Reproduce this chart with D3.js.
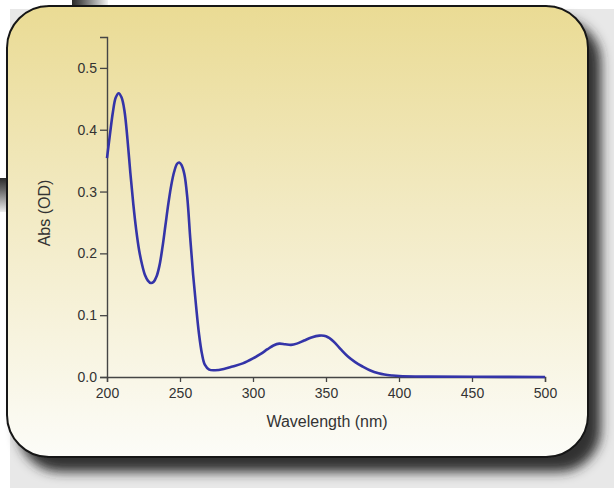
<!DOCTYPE html>
<html>
<head>
<meta charset="utf-8">
<style>
  body { margin: 0; background: #fff; }
  svg { display: block; }
</style>
</head>
<body>
<svg width="614" height="488"></svg>
<script src="https://cdnjs.cloudflare.com/ajax/libs/d3/7.8.5/d3.min.js"></script>
<script>
    // spectrum
    const wavelength = [200, 202, 204, 206, 208, 210, 212, 214, 216, 218, 220, 222, 224, 226, 228, 230,
        232, 234, 236, 238, 240, 242, 244, 246, 248, 249.5, 251, 253, 255, 257, 259, 261, 263, 265,
        267, 270, 274, 280, 286, 293, 300, 305, 310, 314, 318, 322, 326, 330, 335, 340, 345.5, 350,
        355, 360, 365, 370, 375, 380, 386, 390, 395, 400, 420, 450, 500];
    const absorbance = [0.354, 0.392, 0.428, 0.452, 0.459, 0.452, 0.430, 0.385, 0.330, 0.280, 0.238,
        0.205, 0.182, 0.165, 0.156, 0.152, 0.154, 0.163, 0.181, 0.210, 0.245, 0.280, 0.310, 0.332,
        0.345, 0.347, 0.343, 0.328, 0.290, 0.225, 0.165, 0.115, 0.070, 0.038, 0.020, 0.012, 0.011,
        0.013, 0.017, 0.022, 0.030, 0.037, 0.045, 0.051, 0.054, 0.053, 0.052, 0.054, 0.059, 0.064,
        0.067, 0.066, 0.058, 0.045, 0.033, 0.024, 0.017, 0.011, 0.006, 0.004, 0.0025, 0.0015, 0.0006,
        0.0003, 0.0];

    const xTicks = [200, 250, 300, 350, 400, 450, 500];
    const xMinor = [225, 275, 325, 375, 425, 475];
    const yTicks = [0.0, 0.1, 0.2, 0.3, 0.4, 0.5];
    const yMinor = [0.05, 0.15, 0.25, 0.35, 0.45];

    const svg = d3.select("svg");
    const defs = svg.append("defs");

    const cardGrad = defs.append("linearGradient").attr("id", "card")
        .attr("x1", 0).attr("y1", 0).attr("x2", 0).attr("y2", 1);
    cardGrad.append("stop").attr("offset", "0%").attr("stop-color", "#eadb94");
    cardGrad.append("stop").attr("offset", "45%").attr("stop-color", "#f2eac3");
    cardGrad.append("stop").attr("offset", "100%").attr("stop-color", "#fcfcf8");

    const topBar = defs.append("linearGradient").attr("id", "topbar")
        .attr("x1", 0).attr("y1", 0).attr("x2", 1).attr("y2", 0);
    topBar.append("stop").attr("offset", "0%").attr("stop-color", "#2a2a2a");
    topBar.append("stop").attr("offset", "25%").attr("stop-color", "#555");
    topBar.append("stop").attr("offset", "100%").attr("stop-color", "#f4f4f4");

    const sideBar = defs.append("linearGradient").attr("id", "sidebar")
        .attr("x1", 0).attr("y1", 0).attr("x2", 0).attr("y2", 1);
    sideBar.append("stop").attr("offset", "0%").attr("stop-color", "#2a2a2a");
    sideBar.append("stop").attr("offset", "35%").attr("stop-color", "#666");
    sideBar.append("stop").attr("offset", "100%").attr("stop-color", "#eee");

    const shadow = defs.append("filter").attr("id", "shadow")
        .attr("x", "-10%").attr("y", "-10%").attr("width", "130%").attr("height", "130%");
    shadow.append("feDropShadow").attr("dx", 12).attr("dy", 14).attr("stdDeviation", 6)
        .attr("flood-color", "#262626").attr("flood-opacity", 0.95);

    // backdrop
    svg.append("rect").attr("x", 10).attr("y", 9).attr("width", 604).attr("height", 479).attr("fill", "#e8e8e8");
    svg.append("rect").attr("x", 72).attr("y", 0).attr("width", 36).attr("height", 8).attr("fill", "url(#topbar)");
    svg.append("rect").attr("x", 0).attr("y", 178).attr("width", 9).attr("height", 34).attr("fill", "url(#sidebar)");

    svg.append("rect")
        .attr("x", 7).attr("y", 6).attr("width", 581).attr("height", 451).attr("rx", 42)
        .attr("fill", "url(#card)").attr("stroke", "#161616").attr("stroke-width", 2)
        .attr("filter", "url(#shadow)");

    const plotL = 107, plotR = 545, plotT = 37, plotB = 377;
    const x = d3.scaleLinear().domain([200, 500]).range([plotL, plotR]);
    const y = d3.scaleLinear().domain([0, 0.55]).range([plotB, plotT]);

    const axisColor = "#454545";
    const font = "'Liberation Sans', Arial, sans-serif";

    const gx = svg.append("g").attr("transform", `translate(0,${plotB})`);
    gx.call(d3.axisBottom(x).tickValues(xMinor).tickSize(3).tickFormat(""));
    gx.call(d3.axisBottom(x).tickValues(xTicks).tickSize(5).tickPadding(6).tickFormat(d3.format("d")));

    const gy = svg.append("g").attr("transform", `translate(${plotL},0)`);
    gy.call(d3.axisLeft(y).tickValues(yMinor).tickSize(4).tickFormat(""));
    gy.call(d3.axisLeft(y).tickValues(yTicks).tickSize(7).tickPadding(3).tickFormat(d3.format(".1f")));

    svg.selectAll(".domain").attr("stroke", axisColor).attr("stroke-width", 1.4);
    svg.selectAll(".tick line").attr("stroke", axisColor).attr("stroke-width", 1.3);
    svg.selectAll(".tick text").attr("fill", "#333").style("font-family", font).style("font-size", "14px");

    const line = d3.line()
        .x((d, i) => x(wavelength[i]))
        .y(d => y(d))
        .curve(d3.curveCatmullRom.alpha(0.5));

    svg.append("path")
        .datum(absorbance)
        .attr("d", line)
        .attr("fill", "none")
        .attr("stroke", "#3434a8")
        .attr("stroke-width", 2.6)
        .attr("stroke-linejoin", "round");

    svg.append("text")
        .attr("x", 327).attr("y", 427)
        .attr("text-anchor", "middle")
        .attr("fill", "#333")
        .style("font-family", font).style("font-size", "16px")
        .text("Wavelength (nm)");

    svg.append("text")
        .attr("transform", "translate(50,213) rotate(-90)")
        .attr("text-anchor", "middle")
        .attr("fill", "#333")
        .style("font-family", font).style("font-size", "16px")
        .text("Abs (OD)");
</script>
</body>
</html>
